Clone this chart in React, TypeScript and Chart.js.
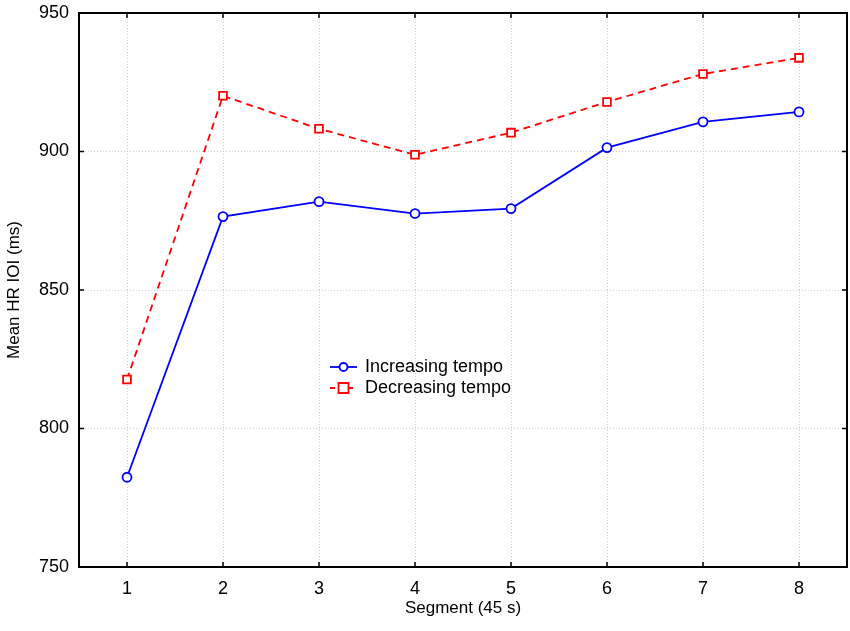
import { useEffect, useRef } from "react"
import { Chart, registerables, type ChartConfiguration, type Plugin } from "chart.js"

Chart.register(...registerables)

const segments = ["1", "2", "3", "4", "5", "6", "7", "8"]
const increasingTempo = [782.4, 876.5, 881.9, 877.6, 879.4, 901.4, 910.7, 914.3]
const decreasingTempo = [817.7, 920.1, 908.2, 898.8, 906.8, 917.9, 928.0, 933.8]
const yTicks = [750, 800, 850, 900, 950]

const FONT = "Arial, 'Liberation Sans', sans-serif"

// frame, inward ticks, axis titles and the in-plot legend
const decorPlugin: Plugin<"line"> = {
  id: "decor",
  afterDraw(chart) {
    const { ctx, chartArea: a, scales } = chart
    ctx.save()
    ctx.strokeStyle = "#000"
    ctx.lineWidth = 2
    ctx.strokeRect(a.left, a.top, a.right - a.left, a.bottom - a.top)

    ctx.lineWidth = 1.5
    ctx.beginPath()
    segments.forEach((_, i) => {
      const x = scales.x.getPixelForValue(i)
      ctx.moveTo(x, a.bottom)
      ctx.lineTo(x, a.bottom - 5)
      ctx.moveTo(x, a.top)
      ctx.lineTo(x, a.top + 5)
    })
    yTicks.forEach((v) => {
      const y = scales.y.getPixelForValue(v)
      ctx.moveTo(a.left, y)
      ctx.lineTo(a.left + 5, y)
      ctx.moveTo(a.right, y)
      ctx.lineTo(a.right - 5, y)
    })
    ctx.stroke()

    ctx.fillStyle = "#000"
    ctx.font = `17px ${FONT}`
    ctx.textAlign = "center"
    ctx.textBaseline = "middle"
    ctx.fillText("Segment (45 s)", (a.left + a.right) / 2, 608)
    ctx.translate(14, (a.top + a.bottom) / 2)
    ctx.rotate(-Math.PI / 2)
    ctx.fillText("Mean HR IOI (ms)", 0, 0)
    ctx.restore()

    // legend
    ctx.save()
    const rows = [
      { label: "Increasing tempo", color: "#0000ff", dash: [] as number[], shape: "circle" },
      { label: "Decreasing tempo", color: "#ff0000", dash: [5, 4], shape: "rect" },
    ]
    rows.forEach((r, i) => {
      const y = 367 + i * 21
      ctx.strokeStyle = r.color
      ctx.lineWidth = 1.8
      ctx.setLineDash(r.dash)
      ctx.beginPath()
      ctx.moveTo(330, y)
      ctx.lineTo(357, y)
      ctx.stroke()
      ctx.setLineDash([])
      ctx.fillStyle = "#fff"
      ctx.beginPath()
      if (r.shape === "circle") ctx.arc(343.5, y, 4, 0, Math.PI * 2)
      else ctx.rect(338.5, y - 5, 10, 10)
      ctx.fill()
      ctx.stroke()
      ctx.fillStyle = "#000"
      ctx.font = `18px ${FONT}`
      ctx.textAlign = "left"
      ctx.textBaseline = "middle"
      ctx.fillText(r.label, 365, y)
    })
    ctx.restore()
  },
}

export default function App() {
  const chartRef = useRef<HTMLCanvasElement>(null)
  const chartInstance = useRef<Chart | null>(null)

  useEffect(() => {
    document.body.style.margin = "0"
    if (!chartRef.current) return
    if (chartInstance.current) chartInstance.current.destroy()
    const ctx = chartRef.current.getContext("2d")
    if (!ctx) return

    const config: ChartConfiguration<"line"> = {
      type: "line",
      data: {
        labels: segments,
        datasets: [
          {
            label: "Increasing tempo",
            data: increasingTempo,
            borderColor: "#0000ff",
            borderWidth: 1.8,
            pointStyle: "circle",
            pointRadius: 4.5,
            pointBorderWidth: 1.8,
            pointBackgroundColor: "#fff",
            pointBorderColor: "#0000ff",
            tension: 0,
          },
          {
            label: "Decreasing tempo",
            data: decreasingTempo,
            borderColor: "#ff0000",
            borderWidth: 1.8,
            borderDash: [7, 5],
            pointStyle: "rect",
            pointRadius: 5.5,
            pointBorderWidth: 1.8,
            pointBackgroundColor: "#fff",
            pointBorderColor: "#ff0000",
            tension: 0,
          },
        ],
      },
      options: {
        animation: false,
        responsive: false,
        layout: { autoPadding: false, padding: { top: 13, right: 3, left: 0, bottom: 0 } },
        plugins: {
          legend: { display: false },
          tooltip: { enabled: false },
        },
        scales: {
          x: {
            type: "category",
            offset: true,
            afterFit: (s) => {
              s.height = 64
              s.paddingLeft = 0
              s.paddingRight = 0
            },
            grid: {
              offset: false,
              color: "#cccccc",
              lineWidth: 1,
              drawTicks: false,
            },
            border: { display: false, dash: [1, 2] },
            ticks: {
              color: "#000",
              font: { family: FONT, size: 18 },
              padding: 11,
            },
          },
          y: {
            min: 750,
            max: 950,
            afterFit: (s) => {
              s.width = 79
              s.paddingTop = 0
              s.paddingBottom = 0
            },
            afterBuildTicks: (s) => {
              s.ticks = yTicks.map((v) => ({ value: v }))
            },
            grid: {
              color: "#cccccc",
              lineWidth: 1,
              drawTicks: false,
            },
            border: { display: false, dash: [1, 2] },
            ticks: {
              color: "#000",
              font: { family: FONT, size: 18 },
              padding: 10,
            },
          },
        },
      },
      plugins: [decorPlugin],
    }

    chartInstance.current = new Chart(ctx, config)
    return () => {
      if (chartInstance.current) chartInstance.current.destroy()
    }
  }, [])

  return <canvas ref={chartRef} width={850} height={631} style={{ display: "block" }} />
}
